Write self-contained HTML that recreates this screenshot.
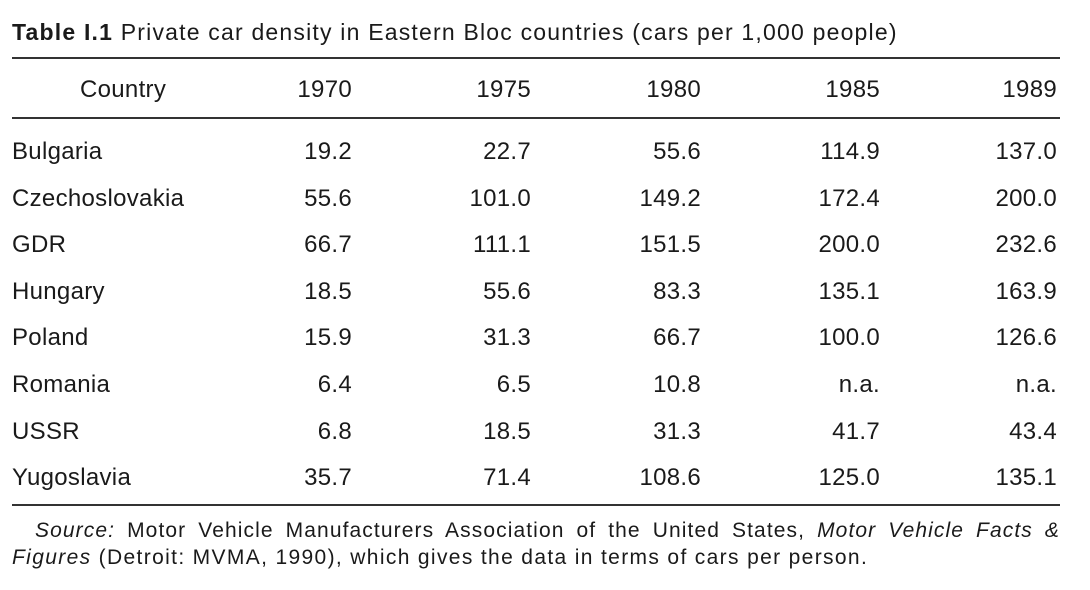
<!DOCTYPE html>
<html><head><meta charset="utf-8"><style>
body{margin:0;width:1090px;height:590px;background:#fff;position:relative;font-family:"Liberation Sans",sans-serif;color:#1a1a1a;overflow:hidden}
.t{position:absolute;white-space:nowrap;font-size:24px;line-height:30px;letter-spacing:0.3px}
.rule{position:absolute;left:12px;width:1048px;height:2px;background:#333}
.r{text-align:right}
.src{position:absolute;left:12px;width:1048px;font-size:21px;line-height:27px;letter-spacing:1.35px;white-space:nowrap}
</style></head><body>
<div class="t" style="left:12px;top:17px;font-size:23px;letter-spacing:1.2px"><b>Table I.1</b>&nbsp;Private car density in Eastern Bloc countries (cars per 1,000 people)</div>
<div class="rule" style="top:57px"></div>
<div class="rule" style="top:117px"></div>
<div class="rule" style="top:504px"></div>
<div id="tbl"></div>
<div class="src" style="top:517px;text-align:justify;text-align-last:justify;padding-left:23px;width:1025px;white-space:normal;letter-spacing:1.1px"><i>Source:</i> Motor Vehicle Manufacturers Association of the United States, <i>Motor Vehicle Facts &amp;</i></div>
<div class="src" style="top:544px"><i>Figures</i> (Detroit: MVMA, 1990), which gives the data in terms of cars per person.</div>
<script>
const years=["1970","1975","1980","1985","1989"];
const countries=["Bulgaria","Czechoslovakia","GDR","Hungary","Poland","Romania","USSR","Yugoslavia"];
const v1970=["19.2","55.6","66.7","18.5","15.9","6.4","6.8","35.7"];
const v1975=["22.7","101.0","111.1","55.6","31.3","6.5","18.5","71.4"];
const v1980=["55.6","149.2","151.5","83.3","66.7","10.8","31.3","108.6"];
const v1985=["114.9","172.4","200.0","135.1","100.0","n.a.","41.7","125.0"];
const v1989=["137.0","200.0","232.6","163.9","126.6","n.a.","43.4","135.1"];
const cols=[v1970,v1975,v1980,v1985,v1989];
const rightEdges=[352,531,701,880,1057];
const tbl=document.getElementById('tbl');
function add(txt,cls,style,name){const d=document.createElement('div');d.className='t '+cls;d.style.cssText=style;d.textContent=txt;


tbl.appendChild(d);}
add("Country","","left:80px;top:75px;","header-country");
years.forEach((y,i)=>add(y,"r","right:"+(1090-rightEdges[i])+"px;top:75px;","header-"+y));
countries.forEach((c,r)=>{const top=137+r*46.6;
add(c,"","left:12px;top:"+top+"px;","row-"+c.toLowerCase()+"-name");
cols.forEach((col,i)=>add(col[r],"r","right:"+(1090-rightEdges[i])+"px;top:"+top+"px;","cell-"+c.toLowerCase()+"-"+years[i]));});
</script>
</body></html>
